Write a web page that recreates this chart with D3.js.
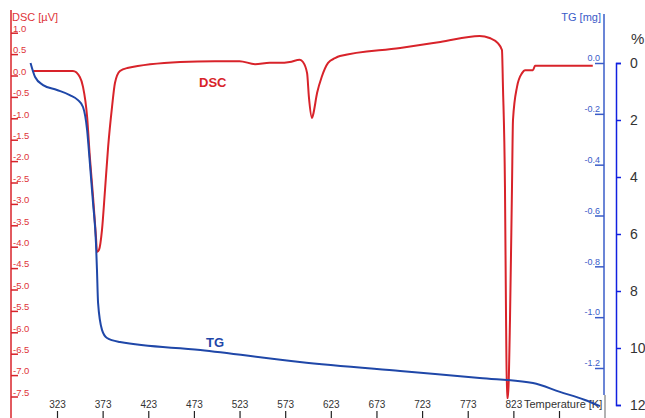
<!DOCTYPE html>
<html>
<head>
<meta charset="utf-8">
<script src="https://cdn.jsdelivr.net/npm/d3@7"></script>
<style>
  body { margin: 0; background: #fff; }
  svg { display: block; font-family: Arial, "Liberation Sans", sans-serif; }
</style>
</head>
<body>
<svg id="chart" width="645" height="418"></svg>
<script>
// DSC curve (temperature in K, signal in uV)
var dscTemp  = [297, 326, 340.5, 348, 351.5, 356, 359, 362.5, 365.7, 366.8, 369, 372.3, 375.6, 379, 383.3, 386.5, 392, 400, 458, 496, 523, 540, 556, 567, 578, 589, 592.5, 597, 599, 602.4, 603.5, 608, 613, 620, 627.6, 633, 699, 743, 786, 797, 806, 810.5, 811.6, 813.8, 815, 816, 817, 819.3, 821.5, 822.6, 827, 832.5, 835.7, 844.5, 846.7, 910];
var dscValue = [0.0, 0.0, 0.0, -0.14, -0.37, -1.07, -2.01, -2.94, -3.88, -4.23, -4.18, -3.71, -2.78, -1.78, -0.84, -0.28, 0.0, 0.07, 0.21, 0.23, 0.23, 0.16, 0.19, 0.19, 0.21, 0.26, 0.21, -0.05, -0.61, -1.10, -1.03, -0.51, -0.14, 0.19, 0.30, 0.35, 0.54, 0.68, 0.82, 0.77, 0.65, 0.49, -0.37, -2.71, -5.82, -7.64, -7.64, -5.82, -2.71, -1.14, -0.37, -0.05, 0.02, 0.02, 0.12, 0.12];

// TG curve (temperature in K, mass change in mg)
var tgTemp  = [294, 299, 307.7, 323, 337, 346, 351.5, 356, 359, 362.5, 365.7, 366.8, 368, 372.3, 377.8, 392, 480, 589, 699, 786, 844.5, 874, 901.5, 918];
var tgValue = [0.0, -0.055, -0.087, -0.106, -0.126, -0.146, -0.173, -0.264, -0.393, -0.551, -0.708, -0.814, -0.944, -1.050, -1.082, -1.098, -1.129, -1.176, -1.212, -1.239, -1.259, -1.294, -1.326, -1.35];

// tick labels
var xTicks   = [323, 373, 423, 473, 523, 573, 623, 673, 723, 773, 823, 873];
var dscTicks = [1.0, 0.5, 0.0, -0.5, -1.0, -1.5, -2.0, -2.5, -3.0, -3.5, -4.0, -4.5, -5.0, -5.5, -6.0, -6.5, -7.0, -7.5];
var tgTicks  = [0.0, -0.2, -0.4, -0.6, -0.8, -1.0, -1.2];
var pctTicks = [0, 2, 4, 6, 8, 10, 12];

var svg = d3.select('#chart');

var red = '#d8232a',
    redText = '#de3439',
    tgBlue = '#1f47a8',
    axisBlue = '#3a5cc8',
    pctBlue = '#1020e0';

// scales
var x = d3.scaleLinear().domain([323, 873]).range([57, 559]);
var yDsc = d3.scaleLinear().domain([0, -1]).range([71, 113.8]);
var yTg = d3.scaleLinear().domain([0, -1.2]).range([63, 368]);
var yPct = d3.scaleLinear().domain([0, 12]).range([63, 405]);

function fmt1(d) { return d.toFixed(1); }

// ---- left DSC axis
svg.append('line')
   .attr('x1', 11).attr('x2', 11).attr('y1', 10).attr('y2', 418)
   .style('stroke', red).style('stroke-width', 1.5);

svg.append('text')
   .attr('x', 12).attr('y', 21)
   .style('fill', redText).style('font-size', '11px')
   .text('DSC [\u00b5V]');

var gDsc = svg.append('g')
    .attr('transform', 'translate(11,0)')
    .call(d3.axisRight(yDsc).tickValues(dscTicks).tickSize(7).tickFormat(fmt1));
gDsc.select('.domain').remove();
gDsc.selectAll('line')
    .attr('y1', 4.5).attr('y2', 4.5)
    .style('stroke', red).style('stroke-width', 1.5);
gDsc.selectAll('text')
    .attr('x', 2).attr('dy', '0.35em')
    .style('fill', redText).style('font-size', '9.5px').style('font-family', 'Arial, sans-serif');

// ---- right TG axis
svg.append('line')
   .attr('x1', 604).attr('x2', 604).attr('y1', 14).attr('y2', 395)
   .style('stroke', axisBlue).style('stroke-width', 1.5);
svg.append('line')
   .attr('x1', 605).attr('x2', 605).attr('y1', 395).attr('y2', 418)
   .style('stroke', '#999').style('stroke-width', 1.5);

svg.append('text')
   .attr('x', 601).attr('y', 21)
   .style('fill', axisBlue).style('font-size', '11px').style('text-anchor', 'end')
   .text('TG [mg]');

var gTg = svg.append('g')
    .attr('transform', 'translate(604,0)')
    .call(d3.axisLeft(yTg).tickValues(tgTicks).tickSize(9).tickFormat(fmt1));
gTg.select('.domain').remove();
gTg.selectAll('line').style('stroke', axisBlue).style('stroke-width', 1.5);
gTg.selectAll('text')
    .attr('x', -4).attr('dy', '-0.25em')
    .style('fill', axisBlue).style('font-size', '9px').style('font-family', 'Arial, sans-serif');

// ---- % axis
var gPct = svg.append('g')
    .attr('transform', 'translate(616,0)')
    .call(d3.axisRight(yPct).tickValues(pctTicks).tickSize(5).tickPadding(9));
gPct.select('.domain').style('stroke', pctBlue).style('stroke-width', 1.5);
gPct.selectAll('line').style('stroke', pctBlue).style('stroke-width', 1.5);
gPct.selectAll('text')
    .style('fill', '#333').style('font-size', '14px').style('font-family', 'Arial, sans-serif');

svg.append('text')
   .attr('x', 631).attr('y', 44)
   .style('fill', '#333').style('font-size', '15px')
   .text('%');

// ---- x axis (labels above the tick marks)
var gx = svg.append('g')
    .attr('transform', 'translate(0,411)')
    .call(d3.axisBottom(x).tickValues(xTicks).tickSize(7)
      .tickFormat(function(d) { return d === 873 ? '' : d; }));
gx.select('.domain').remove();
gx.selectAll('line').style('stroke', '#222').style('stroke-width', 1.2);
gx.selectAll('text')
    .attr('y', -3).attr('dy', 0)
    .style('fill', '#333').style('font-size', '10px').style('font-family', 'Arial, sans-serif');

svg.append('text')
   .attr('x', 524).attr('y', 408)
   .style('fill', '#333').style('font-size', '11px')
   .text('Temperature [K]');

// ---- curves
var dscData = dscTemp.map(function(t, i) { return { t: t, v: dscValue[i] }; });
var tgData = tgTemp.map(function(t, i) { return { t: t, v: tgValue[i] }; });

var dscLine = d3.line()
    .x(function(d) { return x(d.t); })
    .y(function(d) { return yDsc(d.v); })
    .curve(d3.curveMonotoneX);

var tgLine = d3.line()
    .x(function(d) { return x(d.t); })
    .y(function(d) { return yTg(d.v); })
    .curve(d3.curveMonotoneX);

svg.append('path')
   .datum(dscData)
   .attr('d', dscLine)
   .style('fill', 'none').style('stroke', red).style('stroke-width', 2);

svg.append('path')
   .datum(tgData)
   .attr('d', tgLine)
   .style('fill', 'none').style('stroke', tgBlue).style('stroke-width', 2);

// curve labels
svg.append('text')
   .attr('x', 199).attr('y', 87)
   .style('fill', red).style('font-size', '13px').style('font-weight', 'bold')
   .text('DSC');

svg.append('text')
   .attr('x', 206).attr('y', 347)
   .style('fill', tgBlue).style('font-size', '13px').style('font-weight', 'bold')
   .text('TG');
</script>
</body>
</html>
